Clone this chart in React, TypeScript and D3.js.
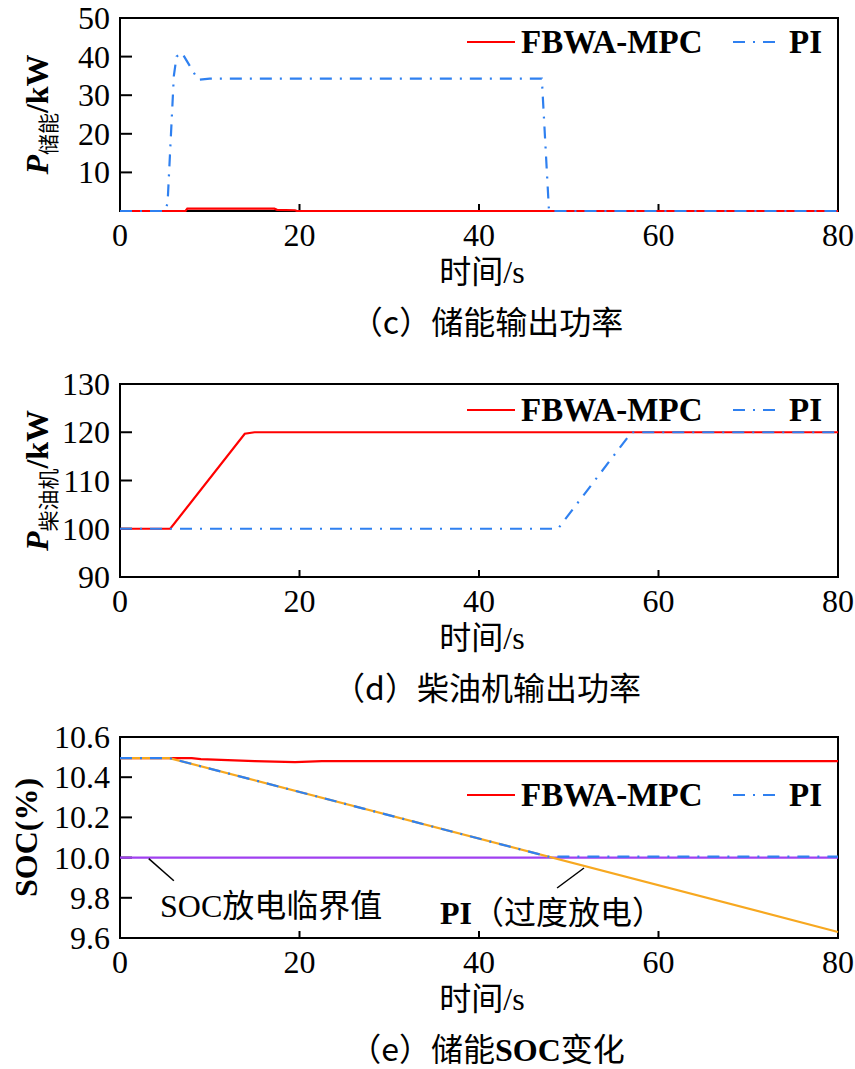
import * as d3 from "d3";

const timeTicks = [0, 20, 40, 60, 80];
const storageTicks = [10, 20, 30, 40, 50];
const dieselTicks = [90, 100, 110, 120, 130];
const socTicks = [9.6, 9.8, 10.0, 10.2, 10.4, 10.6];

// [time s, value] pairs
const storageMpc = [[0, 0], [7.3, 0], [7.5, 0.6], [17.2, 0.6], [17.5, 0.3], [19.5, 0.2], [19.7, 0], [80, 0]];
const storagePi = [[0, 0], [5, 0], [5.3, 2], [6, 35], [6.3, 40], [6.9, 41], [8.7, 34], [10, 34.3], [47, 34.3], [47.8, 0], [80, 0]];
const dieselMpc = [[0, 100], [5.6, 100], [13.9, 119.7], [15, 120], [80, 120]];
const dieselPi = [[0, 100], [48.8, 100], [57, 120], [80, 120]];
const socMpc = [[0, 10.495], [8, 10.495], [9, 10.49], [12, 10.485], [15, 10.48], [19.5, 10.475], [22.5, 10.48], [80, 10.48]];
const socPi = [[0, 10.495], [5.5, 10.495], [47.7, 10.005], [80, 10.005]];
const socPiOver = [[0, 10.495], [5.5, 10.495], [80, 9.63]];
const socLimit = [[0, 10], [80, 10]];

const RED = "#ff0000";
const BLUE = "#2f80f0";
const ORANGE = "#f7a820";
const PURPLE = "#a040f0";
const DASH = "12,8,2,8";
const SERIF = "'Liberation Serif', 'Times New Roman', serif";
const MIXED = "'Liberation Serif', 'Noto Sans CJK SC', serif";
const CJK = "'Noto Sans CJK SC', sans-serif";

const x = d3.scaleLinear().domain([0, 80]).range([120, 838]);

function Panel({ top, bottom, domain, ticks, fmt, series, ylabel, caption, legendY, children }) {
  const y = d3.scaleLinear().domain(domain).range([bottom, top]);
  const line = d3.line().x((d) => x(d[0])).y((d) => y(d[1]));
  const cy = (top + bottom) / 2;
  return (
    <g>
      <rect x={120} y={top} width={718} height={bottom - top} fill="none" stroke="#000" strokeWidth={2} />
      {ticks.map((t) => (
        <g key={t}>
          <line x1={120} x2={132} y1={y(t)} y2={y(t)} stroke="#000" strokeWidth={2} />
          <text x={110} y={y(t) + 11} textAnchor="end" fontFamily={SERIF} fontSize={32}>{fmt(t)}</text>
        </g>
      ))}
      {timeTicks.map((t) => (
        <g key={t}>
          <line x1={x(t)} x2={x(t)} y1={bottom} y2={bottom - 7} stroke="#000" strokeWidth={2} />
          <text x={x(t)} y={bottom + 35} textAnchor="middle" fontFamily={SERIF} fontSize={32}>{t}</text>
        </g>
      ))}
      {series.map((s, i) => (
        <path key={i} d={line(s.data)} fill="none" stroke={s.color} strokeWidth={2.2}
          strokeDasharray={s.dash || null} />
      ))}
      <g transform={`translate(48,${cy}) rotate(-90)`}>{ylabel}</g>
      <text x={482} y={bottom + 72} textAnchor="middle" fontSize={32} fontFamily={MIXED}>时间/s</text>
      <text x={487} y={bottom + 123} textAnchor="middle" fontSize={32} fontFamily={CJK}>{caption}</text>
      <line x1={467} x2={515} y1={legendY} y2={legendY} stroke={RED} strokeWidth={2.2} />
      <text x={521} y={legendY + 11} fontFamily={SERIF} fontWeight="bold" fontSize={33}>FBWA-MPC</text>
      <line x1={733} x2={777} y1={legendY} y2={legendY} stroke={BLUE} strokeWidth={2.2} strokeDasharray={DASH} />
      <text x={789} y={legendY + 11} fontFamily={SERIF} fontWeight="bold" fontSize={33}>PI</text>
      {children}
    </g>
  );
}

function PLabel({ sub }) {
  return (
    <text textAnchor="middle" fontSize={32}>
      <tspan fontFamily={SERIF} fontStyle="italic" fontWeight="bold">P</tspan>
      <tspan fontFamily={CJK} fontSize={21} dy={8}>{sub}</tspan>
      <tspan fontFamily={SERIF} fontWeight="bold" dy={-8}>/kW</tspan>
    </text>
  );
}

export default function App() {
  const f0 = (d) => String(d);
  const f1 = d3.format(".1f");
  const ySoc = d3.scaleLinear().domain([9.6, 10.6]).range([938, 737]);
  return (
    <svg width={855} height={1069} style={{ position: "absolute", left: 0, top: 0, background: "#fff" }}>
      <Panel top={18} bottom={211} domain={[0, 50]} ticks={storageTicks} fmt={f0}
        series={[
          { data: storageMpc, color: RED },
          { data: storagePi, color: BLUE, dash: DASH },
        ]}
        ylabel={<PLabel sub="储能" />}
        caption="（c）储能输出功率" legendY={42} />
      <Panel top={384} bottom={577} domain={[90, 130]} ticks={dieselTicks} fmt={f0}
        series={[
          { data: dieselMpc, color: RED },
          { data: dieselPi, color: BLUE, dash: DASH },
        ]}
        ylabel={<PLabel sub="柴油机" />}
        caption="（d）柴油机输出功率" legendY={410} />
      <Panel top={737} bottom={938} domain={[9.6, 10.6]} ticks={socTicks} fmt={f1}
        series={[
          { data: socMpc, color: RED },
          { data: socLimit, color: PURPLE },
          { data: socPiOver, color: ORANGE },
          { data: socPi, color: BLUE, dash: DASH },
        ]}
        ylabel={<text x={0} y={-11} textAnchor="middle" fontFamily={SERIF} fontWeight="bold" fontSize={32}>SOC(%)</text>}
        caption={<>（e）储能<tspan fontFamily={SERIF} fontWeight="bold">SOC</tspan>变化</>}
        legendY={795}>
        <line x1={x(3.2)} y1={ySoc(10) + 1} x2={x(6)} y2={ySoc(9.885)} stroke="#000" strokeWidth={1.5} />
        <text x={160} y={917} fontSize={32} fontFamily={MIXED}>SOC放电临界值</text>
        <line x1={x(48.7)} y1={888} x2={x(51.7)} y2={868} stroke="#000" strokeWidth={1.5} />
        <text x={440} y={924} fontSize={32}>
          <tspan fontFamily={SERIF} fontWeight="bold">PI</tspan>
          <tspan fontFamily={CJK}>（过度放电）</tspan>
        </text>
      </Panel>
    </svg>
  );
}
